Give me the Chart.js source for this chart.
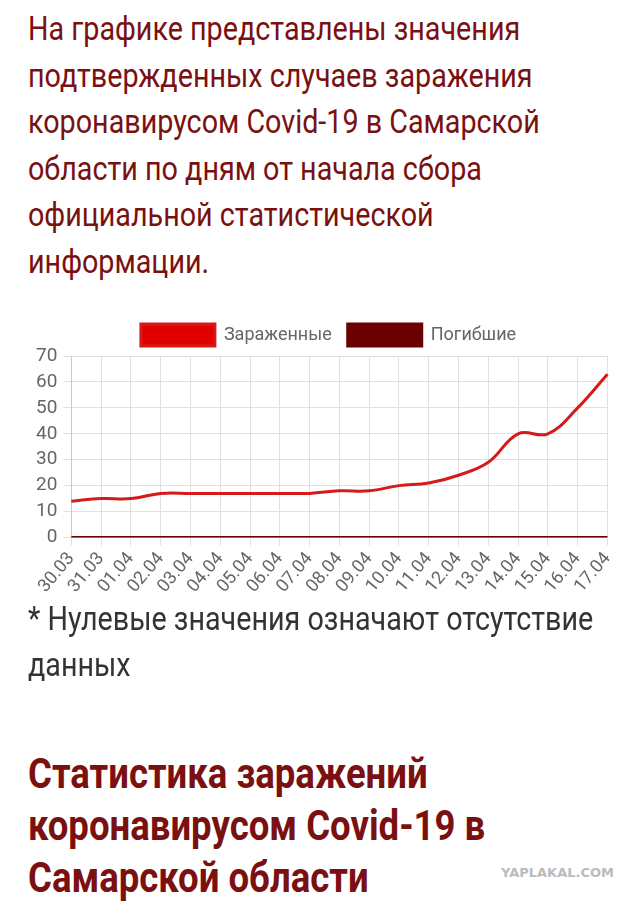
<!DOCTYPE html>
<html><head><meta charset="utf-8">
<script src="https://cdn.jsdelivr.net/npm/chart.js@4"></script>
<style>
body{margin:0;width:640px;height:902px;background:#fff;position:relative;overflow:hidden;font-family:"Roboto",sans-serif;}
.txt{position:absolute;left:28px;width:690px;transform:scaleX(0.87);transform-origin:0 0;}
.intro{top:6px;font-size:33px;line-height:46.5px;color:#7a1010;}
.note{top:596px;font-size:33px;line-height:46px;color:#333;}
.head{top:748px;font-size:42px;line-height:52px;font-weight:bold;color:#7a1010;}
.wm{position:absolute;right:26px;bottom:22px;font:bold 13px "DejaVu Sans",sans-serif;color:#bbb;}
#wrap{position:absolute;left:30px;top:308px;width:597px;height:292px;}
</style></head><body>
<div class="txt intro">На графике представлены значения<br>подтвержденных случаев заражения<br>коронавирусом Covid-19 в Самарской<br>области по дням от начала сбора<br>официальной статистической<br>информации.</div>
<div id="wrap"><canvas id="myChart"></canvas></div>
<div class="txt note">* Нулевые значения означают отсутствие<br>данных</div>
<div class="txt head">Статистика заражений<br>коронавирусом Covid-19 в<br>Самарской области</div>
<div class="wm">YAPLAKAL.COM</div>
<script>
const days = ['30.03','31.03','01.04','02.04','03.04','04.04','05.04','06.04','07.04','08.04','09.04','10.04','11.04','12.04','13.04','14.04','15.04','16.04','17.04'];
const infected = [14,15,15,17,17,17,17,17,17,18,18,20,21,24,29,40,40,50,63];
const deaths = [0,0,0,0,0,0,0,0,0,0,0,0,0,0,0,0,0,0,0];

const ctx = document.getElementById('myChart').getContext('2d');
new Chart(ctx, {
    type: 'line',
    data: {
        labels: days,
        datasets: [
            {label: 'Зараженные', data: infected, borderColor: '#d41a1a', backgroundColor: '#e00000', borderWidth: 3, pointRadius: 0, tension: 0.4, fill: false},
            {label: 'Погибшие', data: deaths, borderColor: '#6a0000', backgroundColor: '#6a0000', borderWidth: 3, pointRadius: 0, tension: 0.4, fill: false},
        ],
    },
    options: {
        animation: false,
        responsive: true,
        maintainAspectRatio: false,
        plugins: {
            legend: {labels: {boxWidth: 74, boxHeight: 22, padding: 16, color: '#666', font: {family: 'Roboto', size: 18}}},
            tooltip: {enabled: false},
        },
        scales: {
            x: {
                offset: false,
                grid: {color: '#e0e0e0'},
                ticks: {color: '#666', maxRotation: 50, minRotation: 50, autoSkip: false, font: {family: 'Roboto', size: 18}},
            },
            y: {
                min: 0, max: 70,
                grid: {color: '#e0e0e0'},
                ticks: {stepSize: 10, color: '#666', padding: 6, font: {family: 'Roboto', size: 19}},
            },
        },
    },
});
</script>
</body></html>
